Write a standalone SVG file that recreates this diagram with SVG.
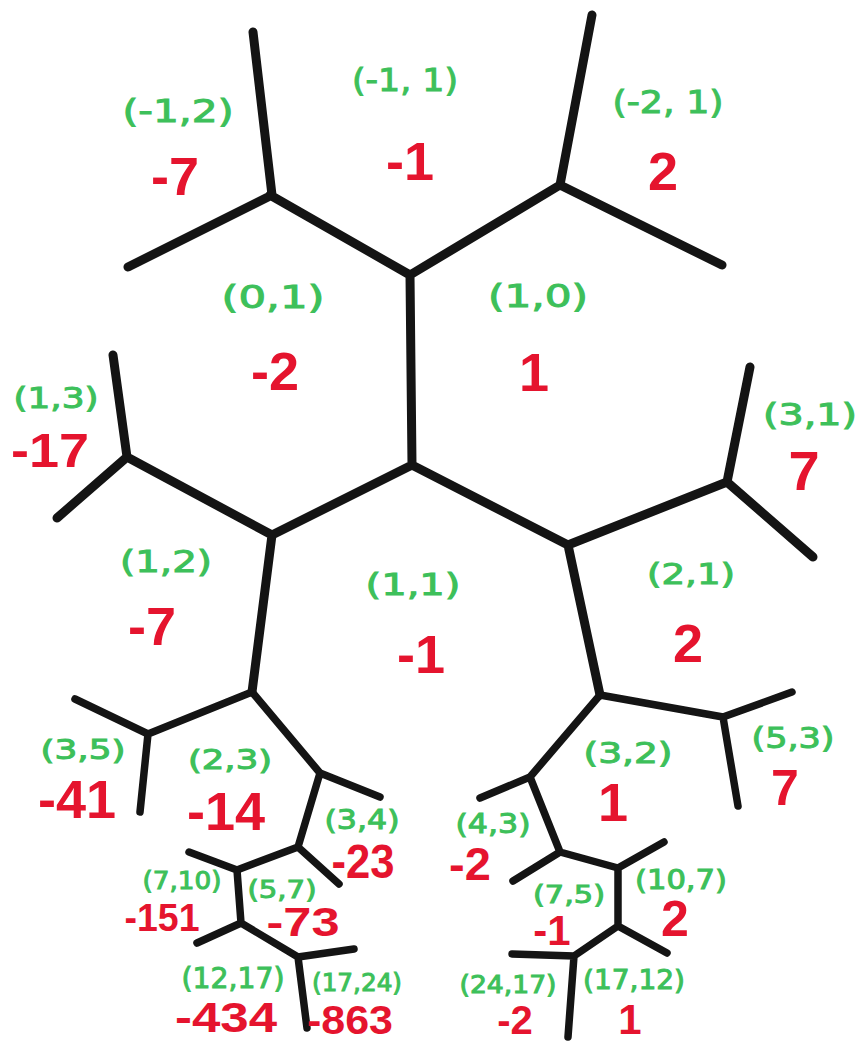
<svg xmlns="http://www.w3.org/2000/svg" width="860" height="1044" viewBox="0 0 860 1044">
<style>
.e{fill:none;stroke:#141414;stroke-width:9;stroke-linecap:round;stroke-linejoin:round}
.s{stroke-width:7.5}
.g{font-family:"DejaVu Sans",sans-serif;fill:#3dc05a;stroke:#3dc05a;stroke-width:1;text-anchor:middle}
.r{font-family:"Liberation Sans",Arial,sans-serif;font-weight:bold;fill:#e5142e;text-anchor:middle}
</style>
<rect width="860" height="1044" fill="#ffffff"/>
<g id="connectors">
<path class="e" d="M410,275 L270,195 M410,275 L560,185 M410,275 L412,465 M272,195 L253,32 M272,195 L128,267 M560,185 L592,15 M560,185 L722,265 M412,465 L272,535 M412,465 L568,545 M272,535 L127,457 M272,535 L252,692 M127,457 L113,355 M127,457 L57,518 M568,545 L727,482 M568,545 L600,695 M727,482 L750,367 M727,482 L813,557"/>
<path class="e s" d="M252,692 L148,734 M252,692 L320,773 M148,734 L75,699 M148,734 L140,812 M320,773 L380,797 M320,773 L298,847 M298,847 L339,884 M298,847 L237,870 M237,870 L189,852 M237,870 L241,923 M241,923 L197,943 M241,923 L298,957 M298,957 L354,949 M298,957 L307,1028"/>
<path class="e s" d="M600,695 L723,717 M600,695 L530,777 M723,717 L792,692 M723,717 L738,806 M530,777 L480,798 M530,777 L560,852 M560,852 L513,881 M560,852 L618,868 M618,868 L664,842 M618,868 L618,926 M618,926 L667,953 M618,926 L574,956 M574,956 L512,954 M574,956 L568,1037"/>
</g>
<g id="f-m1-2"><text class="g" x="178" y="122" font-size="32" textLength="111" lengthAdjust="spacingAndGlyphs">(-1,2)</text><text class="r" x="175" y="195" font-size="54">-7</text></g>
<g id="f-m1-1"><text class="g" x="405" y="91" font-size="32" textLength="106" lengthAdjust="spacingAndGlyphs">(-1, 1)</text><text class="r" x="410" y="180" font-size="54">-1</text></g>
<g id="f-m2-1"><text class="g" x="668" y="113" font-size="32" textLength="111" lengthAdjust="spacingAndGlyphs">(-2, 1)</text><text class="r" x="663" y="190" font-size="54">2</text></g>
<g id="f-0-1"><text class="g" x="273" y="308" font-size="32" textLength="103" lengthAdjust="spacingAndGlyphs">(0,1)</text><text class="r" x="275" y="390" font-size="54">-2</text></g>
<g id="f-1-0"><text class="g" x="538" y="307" font-size="32" textLength="100" lengthAdjust="spacingAndGlyphs">(1,0)</text><text class="r" x="534" y="391" font-size="54">1</text></g>
<g id="f-1-3"><text class="g" x="56" y="408" font-size="28" textLength="85" lengthAdjust="spacingAndGlyphs">(1,3)</text><text class="r" x="50" y="467" font-size="48" textLength="78" lengthAdjust="spacingAndGlyphs">-17</text></g>
<g id="f-3-1"><text class="g" x="810" y="425" font-size="30" textLength="94" lengthAdjust="spacingAndGlyphs">(3,1)</text><text class="r" x="804" y="490" font-size="56">7</text></g>
<g id="f-1-2"><text class="g" x="166" y="572" font-size="30" textLength="92" lengthAdjust="spacingAndGlyphs">(1,2)</text><text class="r" x="152" y="645" font-size="54">-7</text></g>
<g id="f-1-1"><text class="g" x="413" y="595" font-size="30" textLength="95" lengthAdjust="spacingAndGlyphs">(1,1)</text><text class="r" x="421" y="673" font-size="54">-1</text></g>
<g id="f-2-1"><text class="g" x="691" y="584" font-size="28" textLength="88" lengthAdjust="spacingAndGlyphs">(2,1)</text><text class="r" x="688" y="662" font-size="54">2</text></g>
<g id="f-3-5"><text class="g" x="83" y="759" font-size="26" textLength="85" lengthAdjust="spacingAndGlyphs">(3,5)</text><text class="r" x="77" y="818" font-size="54">-41</text></g>
<g id="f-2-3"><text class="g" x="230" y="769" font-size="26" textLength="84" lengthAdjust="spacingAndGlyphs">(2,3)</text><text class="r" x="226" y="830" font-size="54">-14</text></g>
<g id="f-3-4"><text class="g" x="362" y="829" font-size="26" textLength="75" lengthAdjust="spacingAndGlyphs">(3,4)</text><text class="r" x="363" y="878" font-size="48" textLength="63" lengthAdjust="spacingAndGlyphs">-23</text></g>
<g id="f-7-10"><text class="g" x="182" y="889" font-size="24" textLength="79" lengthAdjust="spacingAndGlyphs">(7,10)</text><text class="r" x="162" y="931" font-size="38" textLength="75" lengthAdjust="spacingAndGlyphs">-151</text></g>
<g id="f-5-7"><text class="g" x="282" y="898" font-size="24" textLength="69" lengthAdjust="spacingAndGlyphs">(5,7)</text><text class="r" x="303" y="936" font-size="40" textLength="73" lengthAdjust="spacingAndGlyphs">-73</text></g>
<g id="f-12-17"><text class="g" x="233" y="988" font-size="28" textLength="103" lengthAdjust="spacingAndGlyphs">(12,17)</text><text class="r" x="226" y="1032" font-size="42" textLength="102" lengthAdjust="spacingAndGlyphs">-434</text></g>
<g id="f-17-24"><text class="g" x="357" y="991" font-size="24" textLength="90" lengthAdjust="spacingAndGlyphs">(17,24)</text><text class="r" x="350" y="1034" font-size="40" textLength="86" lengthAdjust="spacingAndGlyphs">-863</text></g>
<g id="f-3-2"><text class="g" x="628" y="763" font-size="28" textLength="89" lengthAdjust="spacingAndGlyphs">(3,2)</text><text class="r" x="613" y="821" font-size="54">1</text></g>
<g id="f-5-3"><text class="g" x="793" y="748" font-size="28" textLength="83" lengthAdjust="spacingAndGlyphs">(5,3)</text><text class="r" x="785" y="805" font-size="50">7</text></g>
<g id="f-4-3"><text class="g" x="493" y="833" font-size="26" textLength="75" lengthAdjust="spacingAndGlyphs">(4,3)</text><text class="r" x="470" y="880" font-size="47">-2</text></g>
<g id="f-7-5"><text class="g" x="569" y="903" font-size="24" textLength="72" lengthAdjust="spacingAndGlyphs">(7,5)</text><text class="r" x="552" y="945" font-size="42">-1</text></g>
<g id="f-10-7"><text class="g" x="681" y="889" font-size="26" textLength="92" lengthAdjust="spacingAndGlyphs">(10,7)</text><text class="r" x="675" y="936" font-size="50">2</text></g>
<g id="f-24-17"><text class="g" x="508" y="993" font-size="24" textLength="97" lengthAdjust="spacingAndGlyphs">(24,17)</text><text class="r" x="515" y="1034" font-size="40">-2</text></g>
<g id="f-17-12"><text class="g" x="634" y="989" font-size="26" textLength="102" lengthAdjust="spacingAndGlyphs">(17,12)</text><text class="r" x="630" y="1034" font-size="42">1</text></g>
</svg>
